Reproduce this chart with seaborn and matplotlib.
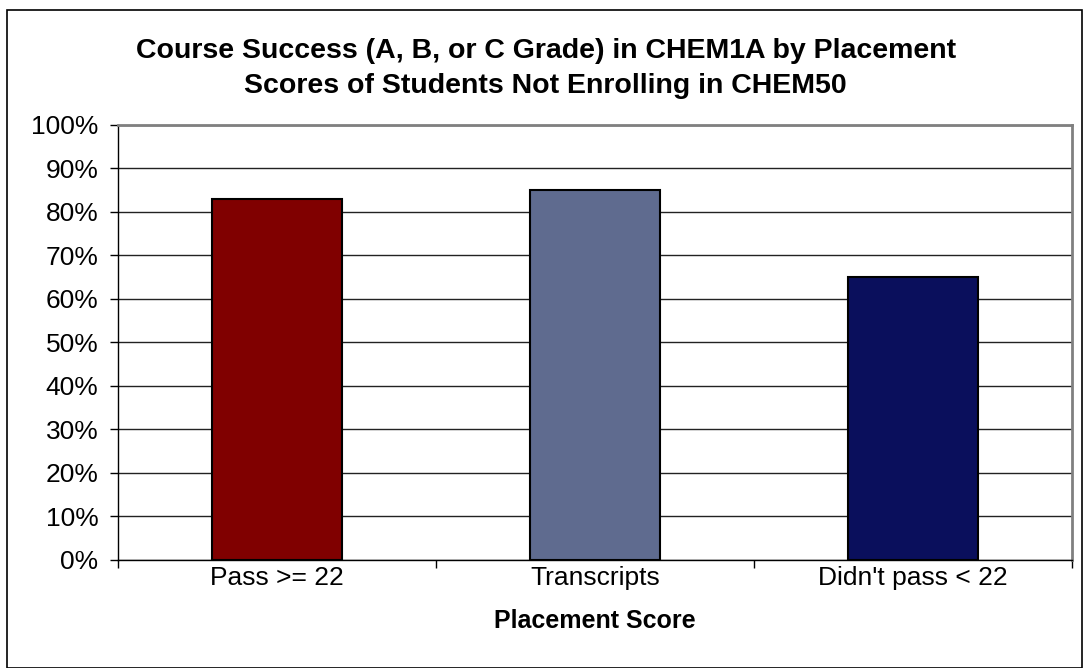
import numpy as np
import matplotlib.pyplot as plt
import seaborn as sns
import pandas as pd
from matplotlib.patches import Rectangle
from matplotlib.ticker import PercentFormatter, FixedLocator

categories = ['Pass >= 22', 'Transcripts', "Didn't pass < 22"]
success = [83, 85, 65]
colors = ['#800000', '#5F6B8F', '#0A0F5C']

df = pd.DataFrame({'group': categories, 'pct': success})

sns.set_style('white')
plt.rcParams['font.family'] = ['Liberation Sans', 'DejaVu Sans']
plt.rcParams['text.color'] = 'black'
plt.rcParams['xtick.color'] = 'black'
plt.rcParams['ytick.color'] = 'black'
plt.rcParams['axes.labelcolor'] = 'black'

fig = plt.figure(figsize=(10.87, 6.68), dpi=100)
ax = fig.add_axes([0.1086, 0.1617, 0.8774, 0.6512])

sns.barplot(data=df, x='group', y='pct', hue='group', palette=colors,
            legend=False, width=0.41, edgecolor='black', linewidth=1.5,
            saturation=1, ax=ax, zorder=3)

ax.set_ylim(0, 100)
ax.set_xlim(-0.5, 2.5)
ax.set_yticks(np.arange(0, 101, 10))
ax.yaxis.set_major_formatter(PercentFormatter(decimals=0))
ax.grid(axis='y', color='#222222', linewidth=1, zorder=0)

# category boundary ticks
ax.xaxis.set_minor_locator(FixedLocator([-0.5, 0.5, 1.5, 2.5]))
ax.tick_params(axis='x', which='major', length=0, pad=4, labelsize=19)
ax.tick_params(axis='x', which='minor', length=6, width=1, color='black', direction='out', bottom=True)
ax.tick_params(axis='y', length=6, width=1, color='black', direction='out', left=True, labelsize=19, pad=8)

for s in ['left', 'bottom']:
    ax.spines[s].set_color('black')
    ax.spines[s].set_linewidth(1)
for s in ['top', 'right']:
    ax.spines[s].set_color('#808080')
    ax.spines[s].set_linewidth(2)

ax.set_ylabel('')
ax.set_xlabel('Placement Score', fontsize=18, fontweight='bold', labelpad=14)
fig.text(0.502, 0.898, 'Course Success (A, B, or C Grade) in CHEM1A by Placement\nScores of Students Not Enrolling in CHEM50',
         ha='center', va='center', fontsize=20.5, fontweight='bold', linespacing=1.45)

# outer chart border
fig.patches.append(Rectangle((0.006, 0.0), 0.989, 0.985, transform=fig.transFigure,
                             fill=False, edgecolor='black', linewidth=1.2))

fig.savefig('out.png', dpi=100)
